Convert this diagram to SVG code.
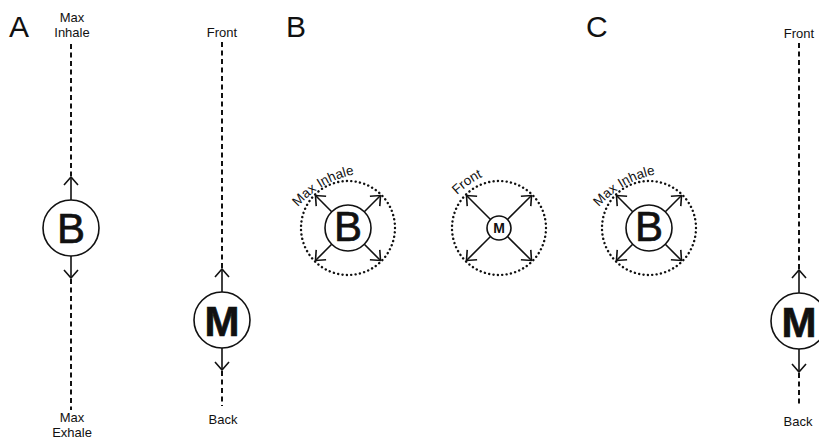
<svg xmlns="http://www.w3.org/2000/svg" width="819" height="440" viewBox="0 0 819 440">
<style>
text{font-family:"Liberation Sans",Arial,sans-serif;fill:#111}
.lbl{font-size:13px;text-anchor:middle}
.big{font-size:30px}
.node{fill:#fff;stroke:#111;stroke-width:1.6}
.dash{stroke:#111;stroke-width:2;stroke-dasharray:5 3.5;fill:none}
.dot{stroke:#111;stroke-width:2.4;stroke-dasharray:0.1 4.3;stroke-linecap:round;fill:none}
.arr{stroke:#111;stroke-width:1.6;fill:none;marker-end:url(#ah)}
.glyph{text-anchor:middle;font-size:42px;stroke:#111;stroke-width:0.7}
.arc{font-size:13.5px}
</style>
<defs>
<marker id="ah" markerUnits="userSpaceOnUse" viewBox="0 0 10 16" refX="9" refY="8" markerWidth="10" markerHeight="16" orient="auto">
<path d="M1,1 L9,8 L1,15" fill="none" stroke="#111" stroke-width="1.6"/>
</marker>
<path id="arcB1" d="M298,207 A100 100 0 0 1 364,173"/>
<path id="arcM" d="M457,195 A100 100 0 0 1 494,172"/>
<path id="arcB2" d="M599,207 A100 100 0 0 1 665,173"/>
</defs>
<rect width="819" height="440" fill="#fff"/>

<g id="panel-labels">
<text class="big" x="9" y="37">A</text>
<text class="big" x="286" y="37">B</text>
<text class="big" x="586" y="37">C</text>
</g>

<g id="connectors">
<line class="dash" x1="71" y1="44" x2="71" y2="176"/>
<line class="arr" x1="71" y1="200" x2="71" y2="177"/>
<line class="arr" x1="71" y1="256" x2="71" y2="278"/>
<line class="dash" x1="71" y1="279" x2="71" y2="410"/>
<line class="dash" x1="222" y1="42" x2="222" y2="268"/>
<line class="arr" x1="222" y1="292" x2="222" y2="269"/>
<line class="arr" x1="222" y1="348" x2="222" y2="370"/>
<line class="dash" x1="222" y1="371" x2="222" y2="406"/>
<line class="arr" x1="331.7" y1="211.7" x2="315.5" y2="195.5"/>
<line class="arr" x1="364.3" y1="211.7" x2="380.5" y2="195.5"/>
<line class="arr" x1="331.7" y1="244.3" x2="315.5" y2="260.5"/>
<line class="arr" x1="364.3" y1="244.3" x2="380.5" y2="260.5"/>
<line class="arr" x1="490.5" y1="219.5" x2="466.5" y2="195.5"/>
<line class="arr" x1="507.5" y1="219.5" x2="531.5" y2="195.5"/>
<line class="arr" x1="490.5" y1="236.5" x2="466.5" y2="260.5"/>
<line class="arr" x1="507.5" y1="236.5" x2="531.5" y2="260.5"/>
<line class="arr" x1="632.7" y1="211.7" x2="616.5" y2="195.5"/>
<line class="arr" x1="665.3" y1="211.7" x2="681.5" y2="195.5"/>
<line class="arr" x1="632.7" y1="244.3" x2="616.5" y2="260.5"/>
<line class="arr" x1="665.3" y1="244.3" x2="681.5" y2="260.5"/>
<line class="dash" x1="799" y1="43" x2="799" y2="269"/>
<line class="arr" x1="799" y1="293" x2="799" y2="270"/>
<line class="arr" x1="799" y1="349" x2="799" y2="372"/>
<line class="dash" x1="799" y1="373" x2="799" y2="407"/>
</g>

<g id="A-breath-labels">
<text class="lbl" x="72" y="422">Max</text>
<text class="lbl" x="72" y="437">Exhale</text>
<text class="lbl" x="72" y="22">Max</text>
<text class="lbl" x="72" y="37">Inhale</text>
</g>
<g id="A-move-labels">
<text class="lbl" x="222" y="37">Front</text>
<text class="lbl" x="223" y="424">Back</text>
</g>

<g id="A-B">
<circle class="node" cx="71" cy="228" r="28"/>
<text class="glyph" x="71" y="243">B</text>
</g>
<g id="A-M">
<circle class="node" cx="222" cy="320" r="28"/>
<text class="glyph" x="222" y="336" font-weight="bold" stroke-width="0.3">M</text>
</g>

<g id="B-B">
<circle class="dot" cx="348" cy="228" r="47"/>
<circle class="node" cx="348" cy="228" r="23"/>
<text class="glyph" x="348" y="241" font-size="36">B</text>
<text class="arc"><textPath href="#arcB1">Max Inhale</textPath></text>
</g>
<g id="B-M">
<circle class="dot" cx="499" cy="228" r="47"/>
<circle class="node" cx="499" cy="228" r="12"/>
<text x="499" y="233" text-anchor="middle" font-size="14" font-weight="bold">M</text>
<text class="arc"><textPath href="#arcM">Front</textPath></text>
</g>

<g id="C-B">
<circle class="dot" cx="649" cy="228" r="47"/>
<circle class="node" cx="649" cy="228" r="23"/>
<text class="glyph" x="649" y="241" font-size="36">B</text>
<text class="arc"><textPath href="#arcB2">Max Inhale</textPath></text>
</g>
<g id="C-M">
<circle class="node" cx="799" cy="321" r="28"/>
<text class="glyph" x="799" y="337" font-weight="bold" stroke-width="0.3">M</text>
<text class="lbl" x="799" y="38">Front</text>
<text class="lbl" x="798" y="426">Back</text>
</g>
</svg>
